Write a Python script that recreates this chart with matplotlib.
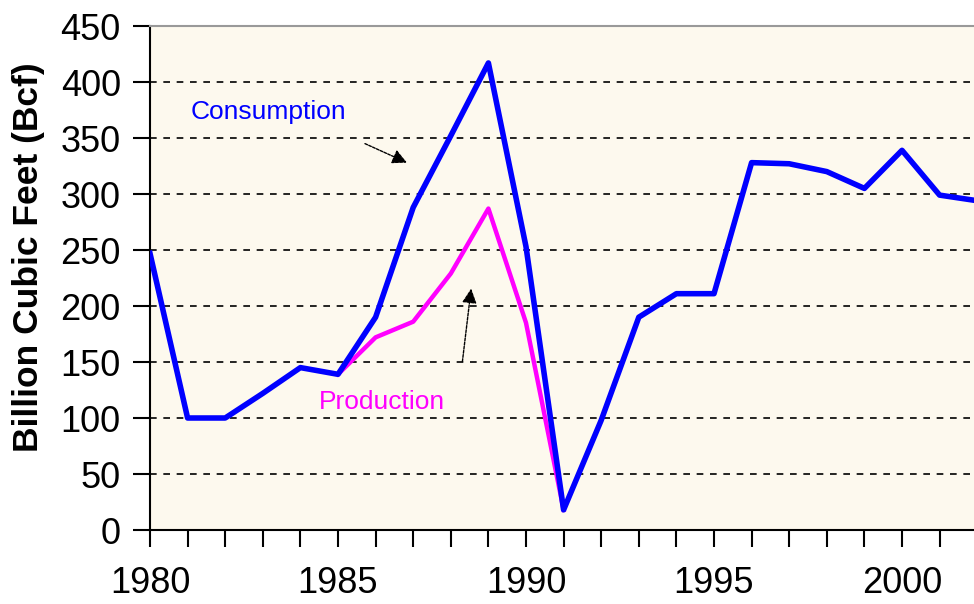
import matplotlib.pyplot as plt
from matplotlib.ticker import MultipleLocator

plt.rcParams['font.family'] = ['Liberation Sans', 'DejaVu Sans']

years = list(range(1980, 2003))
consumption = [247, 100, 100, 122, 145, 139, 190, 288, 352, 417, 253, 18, 98,
               190, 211, 211, 328, 327, 320, 305, 339, 299, 294]
prod_years = list(range(1985, 1992))
production = [139, 172, 186, 229, 287, 185, 18]

fig = plt.figure(figsize=(9.74, 6.04), dpi=100)
ax = fig.add_axes([150 / 974, 1 - 530 / 604, 1 - 150 / 974, 504 / 604])
ax.set_facecolor('#fdf9ee')

ax.plot(prod_years, production, color='#ff00ff', lw=3.2, zorder=3)
ax.plot(years, consumption, color='#0000ff', lw=4, zorder=4)

ax.set_xlim(1980, 1980 + 824 / 37.6)
ax.set_ylim(0, 450)
ax.yaxis.set_major_locator(MultipleLocator(50))
ax.xaxis.set_major_locator(MultipleLocator(5))
ax.xaxis.set_minor_locator(MultipleLocator(1))
ax.grid(axis='y', color='black', linestyle=(0, (4, 4)), lw=1.2)
ax.set_axisbelow(True)

ax.tick_params(axis='y', length=12, width=1.5, labelsize=26, pad=9)
ax.tick_params(axis='x', which='both', length=12, width=1.5, labelsize=26, pad=14)

ax.spines['left'].set_linewidth(1.5)
ax.spines['bottom'].set_linewidth(1.5)
ax.spines['top'].set_color('#999999')
ax.spines['top'].set_linewidth(1.5)
ax.spines['right'].set_visible(False)

ax.set_ylabel('Billion Cubic Feet (Bcf)', fontsize=25.5, fontweight='bold')
ax.yaxis.set_label_coords(-0.128, 0.542)

ax.text(1981.07, 373, 'Consumption', color='#0000ff', fontsize=19, va='center')
ax.annotate('', xy=(1986.9, 327), xytext=(1985.65, 346),
            arrowprops=dict(arrowstyle='-|>', color='black', lw=1, linestyle=(0, (2, 1)),
                            mutation_scale=22))
ax.text(1984.5, 114, 'Production', color='#ff00ff', fontsize=19, va='center')
ax.annotate('', xy=(1988.55, 218), xytext=(1988.3, 148),
            arrowprops=dict(arrowstyle='-|>', color='black', lw=1, linestyle=(0, (2, 1)),
                            mutation_scale=22))

plt.savefig('out.png')
